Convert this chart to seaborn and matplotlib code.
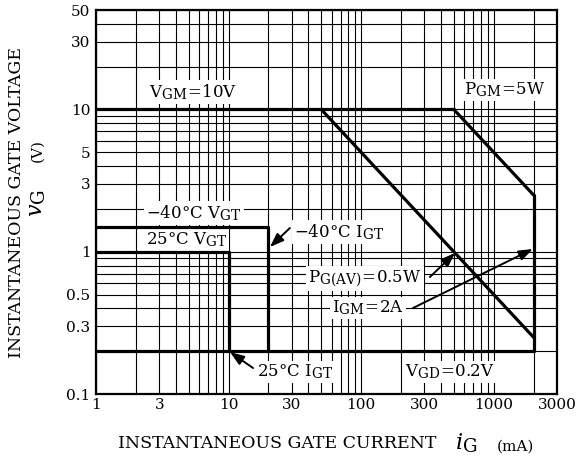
import numpy as np
import pandas as pd
import matplotlib
matplotlib.use("Agg")
import matplotlib.pyplot as plt
import matplotlib._mathtext as _mt
import seaborn as sns
from matplotlib.ticker import FixedLocator, LogLocator, NullFormatter, FixedFormatter

# ---- data (gate current in mA, gate voltage in V) ----
vgm_current = [1, 500]
vgm_voltage = [10, 10]
pgm_current = [500, 2000]
pgm_voltage = [10, 2.5]
igm_current = [2000, 2000]
igm_voltage = [2.5, 0.2]
vgd_current = [1, 2000]
vgd_voltage = [0.2, 0.2]
pgav_current = [50, 2000]
pgav_voltage = [10, 0.25]
vgt40_current = [1, 20, 20]
vgt40_voltage = [1.5, 1.5, 0.2]
vgt25_current = [1, 10, 10]
vgt25_voltage = [1, 1, 0.2]

x_ticks = [1, 3, 10, 30, 100, 300, 1000, 3000]
x_tick_labels = ["1", "3", "10", "30", "100", "300", "1000", "3000"]
y_ticks = [0.1, 0.3, 0.5, 1, 3, 5, 10, 30, 50]
y_tick_labels = ["0.1", "0.3", "0.5", "1", "3", "5", "10", "30", "50"]

segments = {
    "VGM": (vgm_current, vgm_voltage),
    "PGM": (pgm_current, pgm_voltage),
    "IGM": (igm_current, igm_voltage),
    "VGD": (vgd_current, vgd_voltage),
    "PGAV": (pgav_current, pgav_voltage),
    "VGT40": (vgt40_current, vgt40_voltage),
    "VGT25": (vgt25_current, vgt25_voltage),
}
rows = []
for name, (cs, vs) in segments.items():
    for i, (c, v) in enumerate(zip(cs, vs)):
        rows.append({"segment": name, "order": i, "current": c, "voltage": v})
df = pd.DataFrame(rows)

sns.set_style("white")
plt.rcParams["font.family"] = ["DejaVu Serif"]
plt.rcParams["mathtext.fontset"] = "dejavuserif"
plt.rcParams["text.color"] = "black"
plt.rcParams["xtick.color"] = "black"
plt.rcParams["ytick.color"] = "black"
_mt.SHRINK_FACTOR = 0.82

fig = plt.figure(figsize=(5.78, 4.61), dpi=100)
ax = fig.add_axes([96 / 578, 1 - 394 / 461, (557 - 96) / 578, (394 - 10) / 461])

sns.lineplot(data=df, x="current", y="voltage", units="segment", estimator=None,
             sort=False, color="black", linewidth=2.3, ax=ax, zorder=5)

ax.set_xscale("log")
ax.set_yscale("log")
ax.set_xlim(1, 3000)
ax.set_ylim(0.1, 50)

ax.xaxis.set_major_locator(FixedLocator(x_ticks))
ax.xaxis.set_major_formatter(FixedFormatter(x_tick_labels))
ax.yaxis.set_major_locator(FixedLocator(y_ticks))
ax.yaxis.set_major_formatter(FixedFormatter(y_tick_labels))
ax.xaxis.set_minor_locator(LogLocator(base=10, subs=np.arange(2, 10), numticks=30))
ax.yaxis.set_minor_locator(LogLocator(base=10, subs=np.arange(2, 10), numticks=30))
ax.xaxis.set_minor_formatter(NullFormatter())
ax.yaxis.set_minor_formatter(NullFormatter())
ax.tick_params(which="both", length=0, labelsize=11, colors="black")
ax.tick_params(axis="x", pad=3)
ax.tick_params(axis="y", pad=4)
ax.set_axisbelow(True)
ax.grid(which="both", color="black", linewidth=0.8)
for s in ax.spines.values():
    s.set_color("black")
    s.set_linewidth(1.6)
ax.set_xlabel("")
ax.set_ylabel("")

box = dict(facecolor="white", edgecolor="none", pad=1.5)
fs = 12
kw = dict(fontsize=fs, ha="center", va="center", bbox=box, zorder=3)
ax.text(5.39, 13.3, r"$\mathrm{V_{GM}\!=\!10V}$", **kw)
ax.text(1214, 13.7, r"$\mathrm{P_{GM}\!=\!5W}$", **kw)
ax.text(5.48, 1.87, r"$\mathrm{-40°C\ V_{GT}}$", **kw)
ax.text(4.81, 1.21, r"$\mathrm{25°C\ V_{GT}}$", **kw)
ax.text(68, 1.375, r"$\mathrm{-40°C\ I_{GT}}$", **kw)
ax.text(106.8, 0.653, r"$\mathrm{P_{G(AV)}\!=\!0.5W}$", **kw)
ax.text(112.5, 0.402, r"$\mathrm{I_{GM}\!=\!2A}$", **kw)
ax.text(31.7, 0.1428, r"$\mathrm{25°C\ I_{GT}}$", **kw)
ax.text(463, 0.1428, r"$\mathrm{V_{GD}\!=\!0.2V}$", **kw)

arrow = dict(arrowstyle="-|>,head_length=0.6,head_width=0.22", color="black", lw=1.4,
             mutation_scale=14, shrinkA=0, shrinkB=0)
ax.annotate("", xy=(20.5, 1.079), xytext=(29, 1.467), arrowprops=arrow, zorder=6)
ax.annotate("", xy=(510, 0.98), xytext=(330, 0.664), arrowprops=arrow, zorder=6)
ax.annotate("", xy=(1970, 1.045), xytext=(246, 0.402), arrowprops=arrow, zorder=6)
ax.annotate("", xy=(10.25, 0.197), xytext=(15.3, 0.1523), arrowprops=arrow, zorder=6)

# axis titles
W, H = 578, 461
fig.text(118 / W, 1 - 443.5 / H, "INSTANTANEOUS GATE CURRENT", fontsize=12.5, ha="left", va="center")
fig.text(455 / W, 1 - 443 / H, r"$\mathit{i}_{\mathrm{G}}$", fontsize=16, ha="left", va="center")
fig.text(497 / W, 1 - 446.5 / H, "(mA)", fontsize=11, ha="left", va="center")

fig.text(17 / W, 1 - 203 / H, "INSTANTANEOUS GATE VOLTAGE", fontsize=12.5, ha="center",
         va="center", rotation=90)
fig.text(37 / W, 1 - 203 / H, r"$\mathit{v}_{\mathrm{G}}$", fontsize=16, ha="center", va="center", rotation=90)
fig.text(37 / W, 1 - 151 / H, "(V)", fontsize=11, ha="center", va="center", rotation=90)

fig.savefig("out.png", dpi=100)
